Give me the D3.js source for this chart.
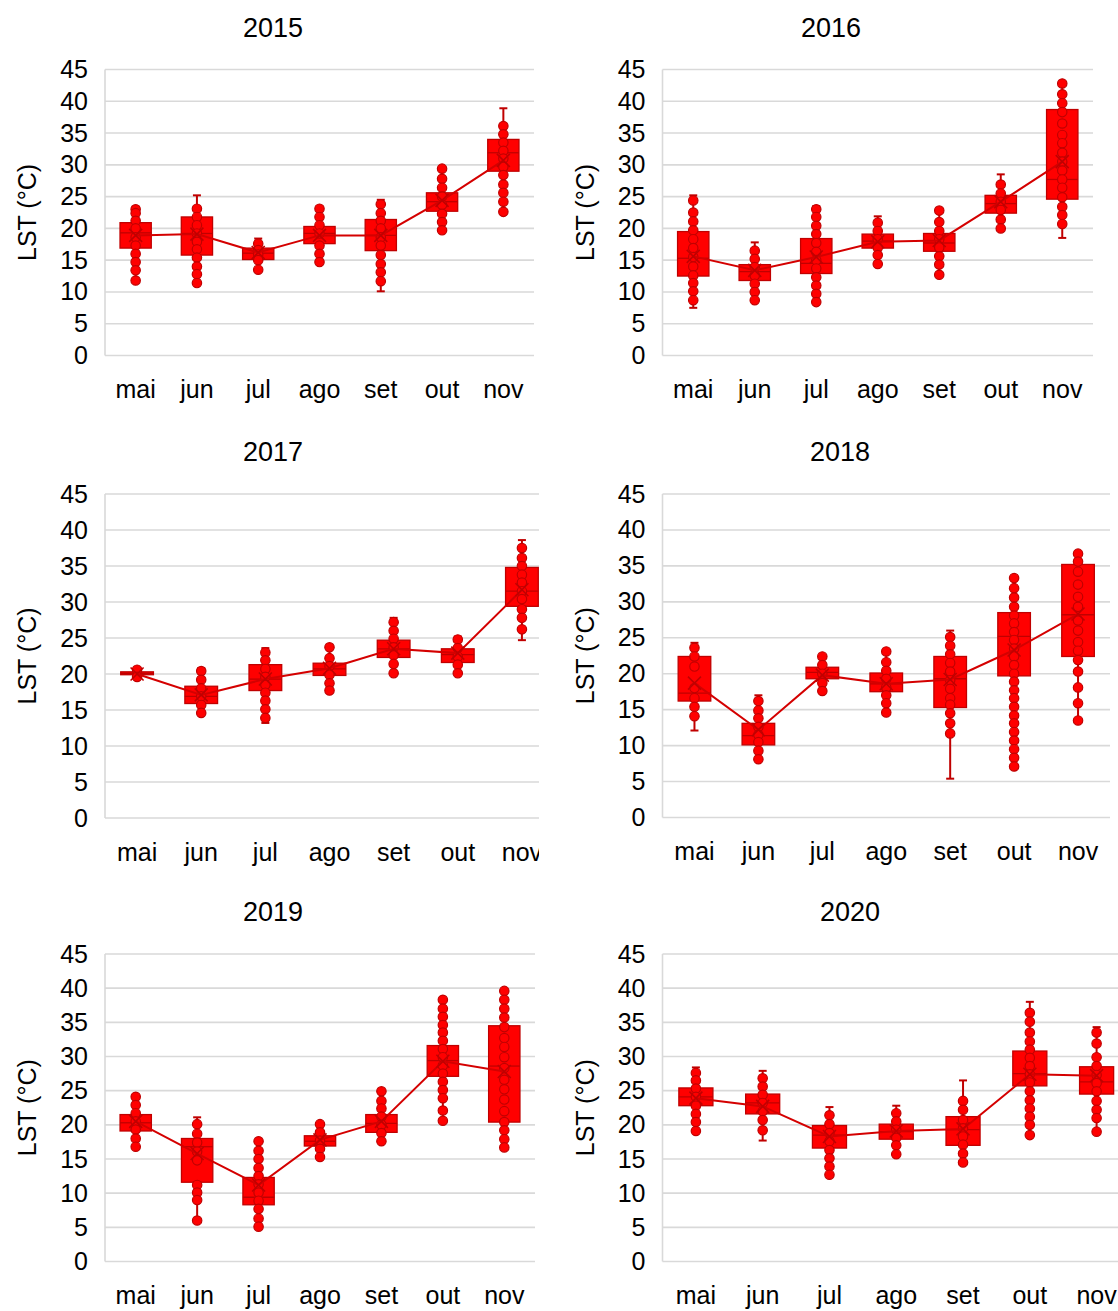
<!DOCTYPE html>
<html>
<head>
<meta charset="utf-8">
<script src="https://cdn.jsdelivr.net/npm/d3@7"></script>
<style>
  html, body { margin: 0; padding: 0; background: #fff; }
  svg { display: block; font-family: "Liberation Sans", Arial, sans-serif; }
</style>
</head>
<body>
<svg id="chart" width="1118" height="1311"></svg>
<script>
// Monthly land surface temperature (LST) distributions, May–November, 2015–2020.
const months = ["mai", "jun", "jul", "ago", "set", "out", "nov"];
const yTicks = [0, 5, 10, 15, 20, 25, 30, 35, 40, 45];
const years = ["2015", "2016", "2017", "2018", "2019", "2020"];

// Per month: [whisker low, Q1, median, Q3, whisker high, mean]
const stats2015 = [
  [11.8, 16.9, 19.3, 20.9, 23.4, 18.9],
  [11.4, 15.8, 19.2, 21.8, 25.2, 19.1],
  [13.5, 15.1, 16.1, 16.9, 18.4, 16.2],
  [14.7, 17.6, 19.2, 20.3, 23.1, 18.9],
  [10.1, 16.5, 18.9, 21.4, 24.5, 18.9],
  [19.7, 22.7, 24.2, 25.6, 29.4, 24.4],
  [22.6, 29.0, 31.9, 34.0, 38.9, 30.7]
];
const points2015 = [
  [23.0, 22.4, 21.2, 20.0, 18.6, 17.3, 16.0, 14.7, 13.4, 11.8],
  [23.1, 21.8, 20.5, 19.2, 17.9, 16.7, 15.4, 14.0, 12.8, 11.4],
  [17.6, 16.6, 15.9, 15.0, 13.5],
  [23.1, 21.8, 20.5, 19.2, 17.3, 16.0, 14.7],
  [23.8, 22.4, 21.2, 20.0, 18.6, 17.3, 15.8, 14.4, 13.1, 11.7],
  [29.4, 27.8, 26.4, 25.0, 23.7, 22.3, 21.0, 19.7],
  [36.1, 34.8, 33.5, 32.2, 31.0, 29.7, 28.4, 26.9, 25.6, 24.2, 22.6]
];

const stats2016 = [
  [7.5, 12.5, 15.3, 19.5, 25.2, 15.6],
  [8.7, 11.8, 13.2, 14.3, 17.8, 13.4],
  [8.4, 12.9, 14.5, 18.4, 23.5, 15.5],
  [14.4, 16.9, 18.0, 19.1, 21.9, 17.9],
  [12.7, 16.4, 17.7, 19.2, 22.8, 18.1],
  [20.0, 22.4, 23.9, 25.2, 28.5, 24.2],
  [18.5, 24.6, 27.7, 38.7, 42.8, 30.5]
];
const points2016 = [
  [24.4, 22.5, 21.1, 19.7, 18.3, 16.9, 15.5, 14.0, 12.6, 11.4, 10.1, 8.7],
  [16.5, 15.2, 13.9, 12.6, 11.3, 10.0, 8.7],
  [23.0, 21.8, 20.4, 19.1, 17.7, 16.3, 15.0, 13.7, 12.3, 11.0, 9.7, 8.4],
  [20.9, 19.6, 18.3, 17.0, 15.8, 14.4],
  [22.8, 21.0, 19.6, 18.3, 17.0, 15.6, 14.3, 12.7],
  [26.9, 25.5, 24.2, 22.9, 21.4, 20.0],
  [42.8, 41.1, 39.7, 38.3, 36.5, 34.7, 33.4, 31.9, 30.5, 29.1, 27.7, 26.4, 24.9, 23.4, 22.1, 20.7]
];

const stats2017 = [
  [19.6, 19.9, 20.1, 20.3, 20.6, 20.0],
  [14.6, 15.9, 16.9, 18.3, 20.8, 17.1],
  [13.2, 17.7, 19.3, 21.3, 23.6, 19.3],
  [17.7, 19.8, 20.7, 21.5, 23.7, 20.8],
  [20.1, 22.3, 23.5, 24.7, 27.8, 23.5],
  [20.1, 21.6, 22.7, 23.5, 25.2, 22.9],
  [24.7, 29.4, 31.5, 34.8, 38.6, 31.7]
];
const points2017 = [
  [20.6, 19.6],
  [20.4, 19.2, 18.0, 16.9, 15.7, 14.6],
  [23.0, 21.9, 20.7, 19.6, 18.5, 17.4, 16.3, 15.1, 13.9],
  [23.7, 22.2, 21.1, 19.9, 18.7, 17.7],
  [27.2, 26.0, 24.9, 23.7, 22.6, 21.4, 20.1],
  [24.8, 23.6, 22.4, 21.3, 20.1],
  [37.5, 36.1, 35.0, 33.8, 32.7, 31.5, 30.4, 29.0, 27.8, 26.2]
];

const stats2018 = [
  [12.1, 16.2, 17.3, 22.4, 24.3, 18.7],
  [8.1, 10.1, 11.4, 13.1, 17.0, 12.2],
  [17.6, 19.3, 20.2, 20.9, 22.4, 19.8],
  [14.6, 17.5, 18.6, 20.1, 23.1, 18.6],
  [5.4, 15.3, 19.3, 22.4, 26.0, 19.2],
  [7.1, 19.7, 25.2, 28.5, 33.3, 23.3],
  [13.5, 22.4, 28.2, 35.2, 36.7, 28.3]
];
const points2018 = [
  [23.6, 22.4, 21.0, 18.0, 16.6, 15.4, 14.1],
  [16.2, 14.9, 13.8, 12.6, 11.5, 10.5, 9.3, 8.1],
  [22.4, 21.2, 20.0, 18.7, 17.6],
  [23.1, 21.6, 20.4, 19.3, 18.1, 17.0, 15.9, 14.6],
  [25.1, 23.9, 22.7, 21.5, 20.3, 19.1, 17.9, 16.6, 15.7, 14.5, 13.1, 11.7],
  [33.3, 31.9, 30.6, 29.3, 28.1, 27.0, 25.8, 24.7, 23.5, 22.4, 21.2, 20.0, 18.9, 17.7, 16.6, 15.4, 14.2, 13.1, 11.9, 10.7, 9.5, 8.3, 7.1],
  [36.7, 35.6, 34.2, 32.4, 30.7, 29.3, 27.4, 26.0, 24.4, 23.2, 21.9, 20.3, 18.1, 15.9, 13.5]
];

const stats2019 = [
  [16.8, 19.1, 20.3, 21.5, 24.1, 20.5],
  [6.0, 11.6, 16.8, 18.0, 21.1, 15.8],
  [5.1, 8.3, 9.4, 12.3, 17.6, 11.2],
  [15.3, 16.9, 17.6, 18.4, 20.1, 17.8],
  [17.6, 18.9, 20.2, 21.5, 24.9, 20.5],
  [20.6, 27.1, 29.4, 31.6, 38.3, 29.3],
  [16.7, 20.4, 28.6, 34.5, 39.6, 27.8]
];
const points2019 = [
  [24.1, 22.9, 21.7, 20.5, 19.3, 18.0, 16.8],
  [20.1, 18.7, 17.4, 16.1, 14.8, 11.2, 10.1, 9.0, 6.0],
  [17.6, 16.2, 15.0, 13.7, 12.5, 11.3, 10.1, 8.9, 7.7, 6.3, 5.1],
  [20.1, 18.9, 17.7, 16.5, 15.3],
  [24.9, 23.5, 22.4, 21.2, 20.0, 18.8, 17.6],
  [38.3, 37.0, 35.8, 34.6, 33.5, 32.3, 31.1, 29.9, 28.7, 27.5, 26.3, 25.1, 23.9, 22.1, 20.6],
  [39.6, 38.3, 37.0, 35.7, 34.3, 32.7, 31.4, 29.9, 28.3, 26.6, 25.2, 23.7, 22.0, 20.4, 19.2, 17.9, 16.7]
];

const stats2020 = [
  [19.1, 22.8, 24.1, 25.4, 28.4, 23.9],
  [17.7, 21.6, 23.2, 24.5, 27.9, 22.7],
  [12.7, 16.6, 18.5, 19.9, 22.6, 18.3],
  [15.7, 17.9, 19.0, 20.1, 22.8, 19.1],
  [14.5, 17.0, 19.3, 21.2, 26.5, 19.4],
  [18.5, 25.7, 27.5, 30.8, 38.0, 27.4],
  [19.0, 24.5, 26.3, 28.5, 34.3, 27.2]
];
const points2020 = [
  [27.6, 26.5, 25.3, 24.1, 22.8, 21.6, 20.4, 19.1],
  [26.8, 25.6, 24.4, 23.2, 22.0, 20.7, 19.2],
  [21.4, 20.1, 18.8, 17.6, 16.3, 15.1, 13.9, 12.7],
  [21.7, 20.5, 19.3, 18.1, 17.0, 15.7],
  [23.5, 22.2, 20.7, 19.5, 18.3, 17.1, 15.8, 14.5],
  [36.4, 35.1, 33.5, 32.2, 31.0, 29.8, 28.6, 27.4, 26.2, 24.9, 23.6, 22.4, 21.2, 20.0, 18.5],
  [33.5, 31.9, 29.9, 28.6, 27.3, 26.1, 24.9, 23.5, 22.2, 21.0, 19.0]
];

const allStats = [stats2015, stats2016, stats2017, stats2018, stats2019, stats2020];
const allPoints = [points2015, points2016, points2017, points2018, points2019, points2020];

// Panel placement on the page
const panels = [
  { x0: 105,   x1: 534,  top: 69.5, bot: 355.5, titleX: 273, labelX: 27,  clipRight: null },
  { x0: 662.5, x1: 1093, top: 69.5, bot: 355.5, titleX: 831, labelX: 585, clipRight: null },
  { x0: 105,   x1: 554,  top: 494,  bot: 818,   titleX: 273, labelX: 27,  clipRight: 539 },
  { x0: 662.5, x1: 1110, top: 494,  bot: 817.5, titleX: 840, labelX: 585, clipRight: null },
  { x0: 105,   x1: 535,  top: 954,  bot: 1261.5,titleX: 273, labelX: 27,  clipRight: null },
  { x0: 662.5, x1: 1130, top: 954,  bot: 1261.5,titleX: 850, labelX: 585, clipRight: null }
];

const RED = "#ff0000";
const DARK = "#c00000";
const GRID = "#d9d9d9";

const svg = d3.select("#chart");
const defs = svg.append("defs");

panels.forEach((p, i) => {
  const stats = allStats[i];
  const pts = allPoints[i];
  let g = svg.append("g");
  if (p.clipRight !== null) {
    const id = "clip" + i;
    defs.append("clipPath").attr("id", id)
      .append("rect").attr("x", 0).attr("y", p.top - 80)
      .attr("width", p.clipRight).attr("height", p.bot - p.top + 160);
    g.attr("clip-path", `url(#${id})`);
  }

  const x = d3.scaleBand().domain(months).range([p.x0, p.x1]).paddingInner(0).paddingOuter(0);
  const y = d3.scaleLinear().domain([0, 45]).range([p.bot, p.top]);
  const bw = x.bandwidth() * 0.51;
  const cx = m => x(m) + x.bandwidth() / 2;

  // horizontal gridlines
  g.append("g").selectAll("line").data(yTicks).join("line")
    .attr("x1", p.x0).attr("x2", p.x1)
    .attr("y1", d => y(d)).attr("y2", d => y(d))
    .attr("stroke", GRID).attr("stroke-width", 1.6);
  // vertical axis line
  g.append("line").attr("x1", p.x0).attr("x2", p.x0)
    .attr("y1", p.top).attr("y2", p.bot)
    .attr("stroke", GRID).attr("stroke-width", 1.6);

  // y axis labels
  const ya = g.append("g").attr("transform", `translate(${p.x0},0)`)
    .call(d3.axisLeft(y).tickValues(yTicks).tickSize(0).tickPadding(17));
  ya.select(".domain").remove();
  ya.selectAll("text").attr("font-size", 25).attr("fill", "#000")
    .attr("font-family", "Liberation Sans, Arial, sans-serif");

  // x axis labels
  const xa = g.append("g").attr("transform", `translate(0,${p.bot})`)
    .call(d3.axisBottom(x).tickSize(0).tickPadding(25));
  xa.select(".domain").remove();
  xa.selectAll("text").attr("font-size", 25).attr("fill", "#000")
    .attr("font-family", "Liberation Sans, Arial, sans-serif");

  // title
  svg.append("text").attr("x", p.titleX).attr("y", p.top - 33)
    .attr("text-anchor", "middle").attr("font-size", 27).attr("fill", "#000")
    .text(years[i]);

  // y axis title
  svg.append("text")
    .attr("transform", `translate(${p.labelX + 9},${(p.top + p.bot) / 2}) rotate(-90)`)
    .attr("text-anchor", "middle").attr("font-size", 25).attr("fill", "#000")
    .text("LST (°C)");

  const rows = months.map((m, j) => ({
    m, lo: stats[j][0], q1: stats[j][1], med: stats[j][2],
    q3: stats[j][3], hi: stats[j][4], mean: stats[j][5], pts: pts[j]
  }));

  const marks = g.append("g");
  rows.forEach(r => {
    const c = cx(r.m);
    // whiskers
    marks.append("line").attr("x1", c).attr("x2", c)
      .attr("y1", y(r.hi)).attr("y2", y(r.q3))
      .attr("stroke", DARK).attr("stroke-width", 2);
    marks.append("line").attr("x1", c).attr("x2", c)
      .attr("y1", y(r.q1)).attr("y2", y(r.lo))
      .attr("stroke", DARK).attr("stroke-width", 2);
    [r.hi, r.lo].forEach(v => {
      marks.append("line").attr("x1", c - 4).attr("x2", c + 4)
        .attr("y1", y(v)).attr("y2", y(v))
        .attr("stroke", DARK).attr("stroke-width", 2);
    });
    // box
    marks.append("rect").attr("x", c - bw / 2).attr("width", bw)
      .attr("y", y(r.q3)).attr("height", Math.max(1, y(r.q1) - y(r.q3)))
      .attr("fill", RED).attr("stroke", DARK).attr("stroke-width", 1.3);
    // median
    marks.append("line").attr("x1", c - bw / 2).attr("x2", c + bw / 2)
      .attr("y1", y(r.med)).attr("y2", y(r.med))
      .attr("stroke", DARK).attr("stroke-width", 1.3);
    // inner points
    marks.append("g").selectAll("circle").data(r.pts).join("circle")
      .attr("cx", c).attr("cy", d => y(d)).attr("r", 4.7)
      .attr("fill", RED).attr("stroke", DARK).attr("stroke-width", 1.2);
  });

  // mean line
  const line = d3.line().x(d => cx(d.m)).y(d => y(d.mean));
  marks.append("path").datum(rows).attr("d", line)
    .attr("fill", "none").attr("stroke", "#d40000").attr("stroke-width", 2);

  // mean markers
  marks.append("g").selectAll("path").data(rows).join("path")
    .attr("d", d => {
      const c = cx(d.m), yy = y(d.mean), s = 6.5;
      return `M${c - s},${yy - s}L${c + s},${yy + s}M${c - s},${yy + s}L${c + s},${yy - s}`;
    })
    .attr("stroke", DARK).attr("stroke-width", 1.6).attr("fill", "none");
});
</script>
</body>
</html>
